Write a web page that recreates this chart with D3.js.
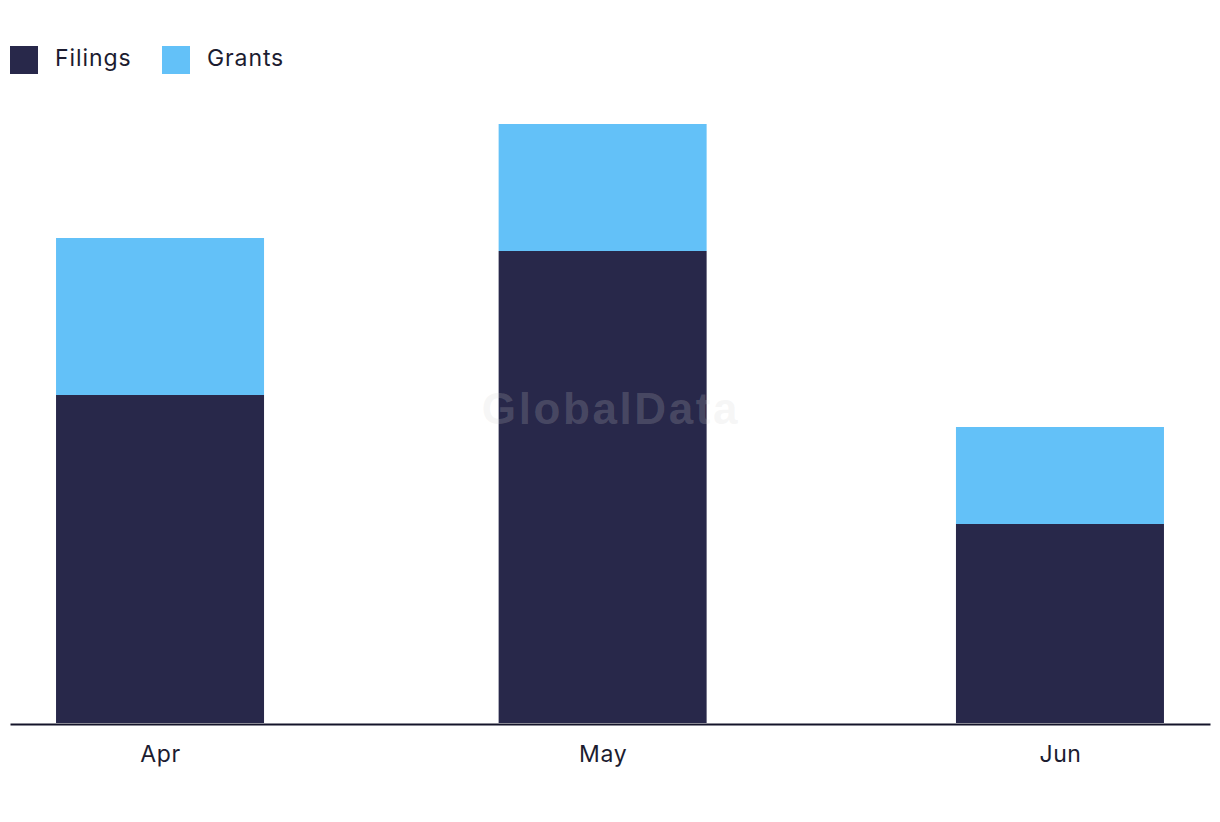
<!DOCTYPE html>
<html>
<head>
<meta charset="utf-8">
<script src="https://cdn.jsdelivr.net/npm/d3@7"></script>
<style>
  html, body { margin: 0; padding: 0; background: #fff; }
  svg { display: block; font-family: Inter, "Open Sans", sans-serif; }
</style>
</head>
<body>
<svg id="chart" width="1220" height="822"></svg>
<script>
// ---- data ----
const months = ["2023-04-01", "2023-05-01", "2023-06-01"];
const monthLabels = ["Apr", "May", "Jun"];
const filings = [65.6, 94.4, 39.8];
const grants = [31.4, 25.4, 19.4];
const seriesNames = ["Filings", "Grants"];
const seriesColors = ["#28284a", "#63c1f8"];

// ---- layout ----
const svg = d3.select("#chart");
const left = 10, right = 1210, baseY = 723, topY = 124;
const barW = 208;
const dates = months.map(d => new Date(d + "T00:00:00Z"));
const padMs = 10.17 * 24 * 3600 * 1000;

const x = d3.scaleUtc()
  .domain([new Date(+dates[0] - padMs), new Date(+dates[dates.length - 1] + padMs)])
  .range([left, right]);

const totals = filings.map((f, i) => f + grants[i]);
const y = d3.scaleLinear().domain([0, d3.max(totals)]).range([baseY, topY]);

const rows = dates.map((d, i) => ({ date: d, Filings: filings[i], Grants: grants[i] }));
const stack = d3.stack().keys(seriesNames)(rows);

// bars
svg.append("g").selectAll("g")
  .data(stack)
  .join("g")
  .attr("fill", (d, i) => seriesColors[i])
  .selectAll("rect")
  .data(d => d)
  .join("rect")
  .attr("x", d => x(d.data.date) - barW / 2)
  .attr("width", barW)
  .attr("y", d => y(d[1]))
  .attr("height", d => y(d[0]) - y(d[1]));

// watermark
svg.append("text")
  .attr("x", 611).attr("y", 424)
  .attr("text-anchor", "middle")
  .attr("font-family", "Liberation Sans, Arial, sans-serif")
  .attr("font-weight", "bold")
  .attr("font-size", 44)
  .attr("letter-spacing", 2.6)
  .attr("fill", "#cfcfcf")
  .attr("fill-opacity", 0.2)
  .text("GlobalData");

// x axis
const xAxis = d3.axisBottom(x)
  .tickValues(dates)
  .tickFormat((d, i) => monthLabels[i])
  .tickSize(0)
  .tickPadding(22);
const gx = svg.append("g").attr("transform", `translate(0,${baseY + 1})`).call(xAxis);
gx.select(".domain").attr("stroke", "#14142a").attr("stroke-width", 2);
gx.selectAll("text")
  .attr("font-family", "Inter, 'Open Sans', sans-serif")
  .attr("font-size", 23)
  .attr("letter-spacing", 0.6)
  .attr("fill", "#1c1c30");

// legend
const legend = svg.append("g");
const legX = [10, 162];
seriesNames.forEach((name, i) => {
  const g = legend.append("g").attr("transform", `translate(${legX[i]},46)`);
  g.append("rect").attr("width", 28).attr("height", 28).attr("fill", seriesColors[i]);
  g.append("text").attr("x", 45).attr("y", 20)
    .attr("font-size", 23)
    .attr("letter-spacing", 0.9)
    .attr("fill", "#1c1c30")
    .text(name);
});
</script>
</body>
</html>
